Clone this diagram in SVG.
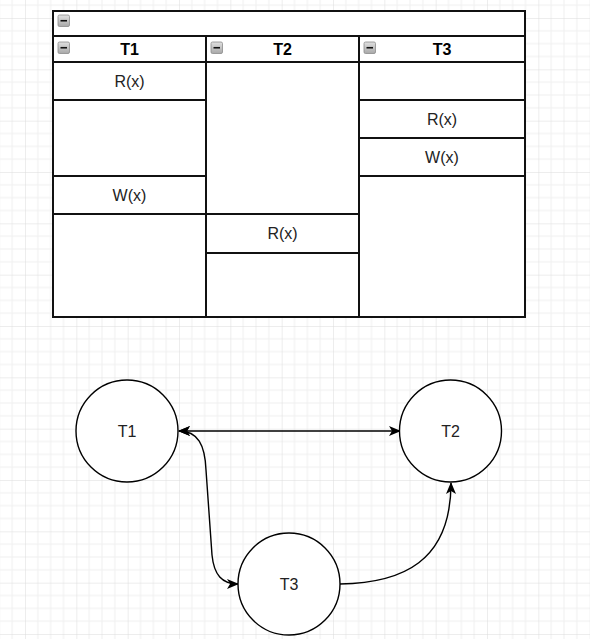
<svg xmlns="http://www.w3.org/2000/svg" width="590" height="639" viewBox="0 0 590 639">
<defs>
<pattern id="grid" patternUnits="userSpaceOnUse" x="25" y="18" width="51.333" height="51.333">
<rect width="51.333" height="51.333" fill="#ffffff"/>
<path d="M12.83 0V51.333M25.67 0V51.333M38.5 0V51.333M0 12.83H51.333M0 25.67H51.333M0 38.5H51.333" stroke="#f0f0f0" stroke-width="1" fill="none"/>
<path d="M0 0V51.333M0 0H51.333" stroke="#dcdcdc" stroke-width="1" fill="none"/>
</pattern>
<linearGradient id="ig" x1="0" y1="0" x2="0" y2="1">
<stop offset="0" stop-color="#e0e0e0"/>
<stop offset="1" stop-color="#a8a8a8"/>
</linearGradient>
<g id="icon">
<rect x="0" y="0" width="11.5" height="11.5" rx="1.5" fill="url(#ig)" stroke="#8c8c8c" stroke-width="0.8"/>
<line x1="2.5" y1="5.75" x2="9" y2="5.75" stroke="#111" stroke-width="1.6"/>
</g>
<marker id="arr" viewBox="0 0 12 10" refX="11" refY="5" markerWidth="12" markerHeight="10" markerUnits="userSpaceOnUse" orient="auto-start-reverse">
<path d="M0 0L12 5L0 10L3 5Z" fill="#000"/>
</marker>
</defs>
<style>
.tl{stroke:#111;stroke-width:2;fill:none}
.hd{font-family:"Liberation Sans",Arial,sans-serif;font-size:16px;font-weight:bold;fill:#000;text-anchor:middle}
.tx{font-family:"Liberation Sans",Arial,sans-serif;font-size:16px;fill:#222;text-anchor:middle}
.nd{fill:#fff;stroke:#000;stroke-width:1.4}
.ed{fill:none;stroke:#000;stroke-width:1.4}
</style>
<rect width="590" height="639" fill="url(#grid)"/>

<g id="table">
<rect x="53" y="11" width="472" height="306" fill="#fff"/>
<rect x="53" y="11" width="472" height="306" class="tl"/>
<line x1="53" y1="36" x2="525" y2="36" class="tl"/>
<line x1="53" y1="62" x2="525" y2="62" class="tl"/>
<line x1="206" y1="36" x2="206" y2="317" class="tl"/>
<line x1="359" y1="36" x2="359" y2="317" class="tl"/>
<use href="#icon" x="58" y="15"/>
</g>
<g id="col-T1">
<use href="#icon" x="58" y="42"/>
<text class="hd" x="129.5" y="55">T1</text>
<line x1="53" y1="100" x2="206" y2="100" class="tl"/>
<line x1="53" y1="176" x2="206" y2="176" class="tl"/>
<line x1="53" y1="214" x2="206" y2="214" class="tl"/>
<text class="tx" x="129.5" y="86.5">R(x)</text>
<text class="tx" x="129.5" y="200.5">W(x)</text>
</g>
<g id="col-T2">
<use href="#icon" x="211" y="42"/>
<text class="hd" x="282.5" y="55">T2</text>
<line x1="206" y1="214" x2="359" y2="214" class="tl"/>
<line x1="206" y1="253" x2="359" y2="253" class="tl"/>
<text class="tx" x="282.5" y="239">R(x)</text>
</g>
<g id="col-T3">
<use href="#icon" x="364" y="42"/>
<text class="hd" x="442" y="55">T3</text>
<line x1="359" y1="100" x2="525" y2="100" class="tl"/>
<line x1="359" y1="138" x2="525" y2="138" class="tl"/>
<line x1="359" y1="176" x2="525" y2="176" class="tl"/>
<text class="tx" x="442" y="124.5">R(x)</text>
<text class="tx" x="442" y="162.5">W(x)</text>
</g>

<g id="connectors">
<line class="ed" x1="179" y1="431" x2="400" y2="431" marker-start="url(#arr)" marker-end="url(#arr)"/>
<path class="ed" d="M179 431C198 431 205 445 206 470L212 555C214 575 222 584 238 584" marker-start="url(#arr)" marker-end="url(#arr)"/>
<path class="ed" d="M340 584C402 583 451 562 451 483" marker-end="url(#arr)"/>
</g>

<g id="node-T1">
<circle class="nd" cx="127" cy="431" r="51"/>
<text class="tx" x="127" y="437">T1</text>
</g>
<g id="node-T2">
<circle class="nd" cx="450.5" cy="431" r="51"/>
<text class="tx" x="450.5" y="437">T2</text>
</g>
<g id="node-T3">
<circle class="nd" cx="289" cy="584" r="51"/>
<text class="tx" x="289" y="590">T3</text>
</g>
</svg>
